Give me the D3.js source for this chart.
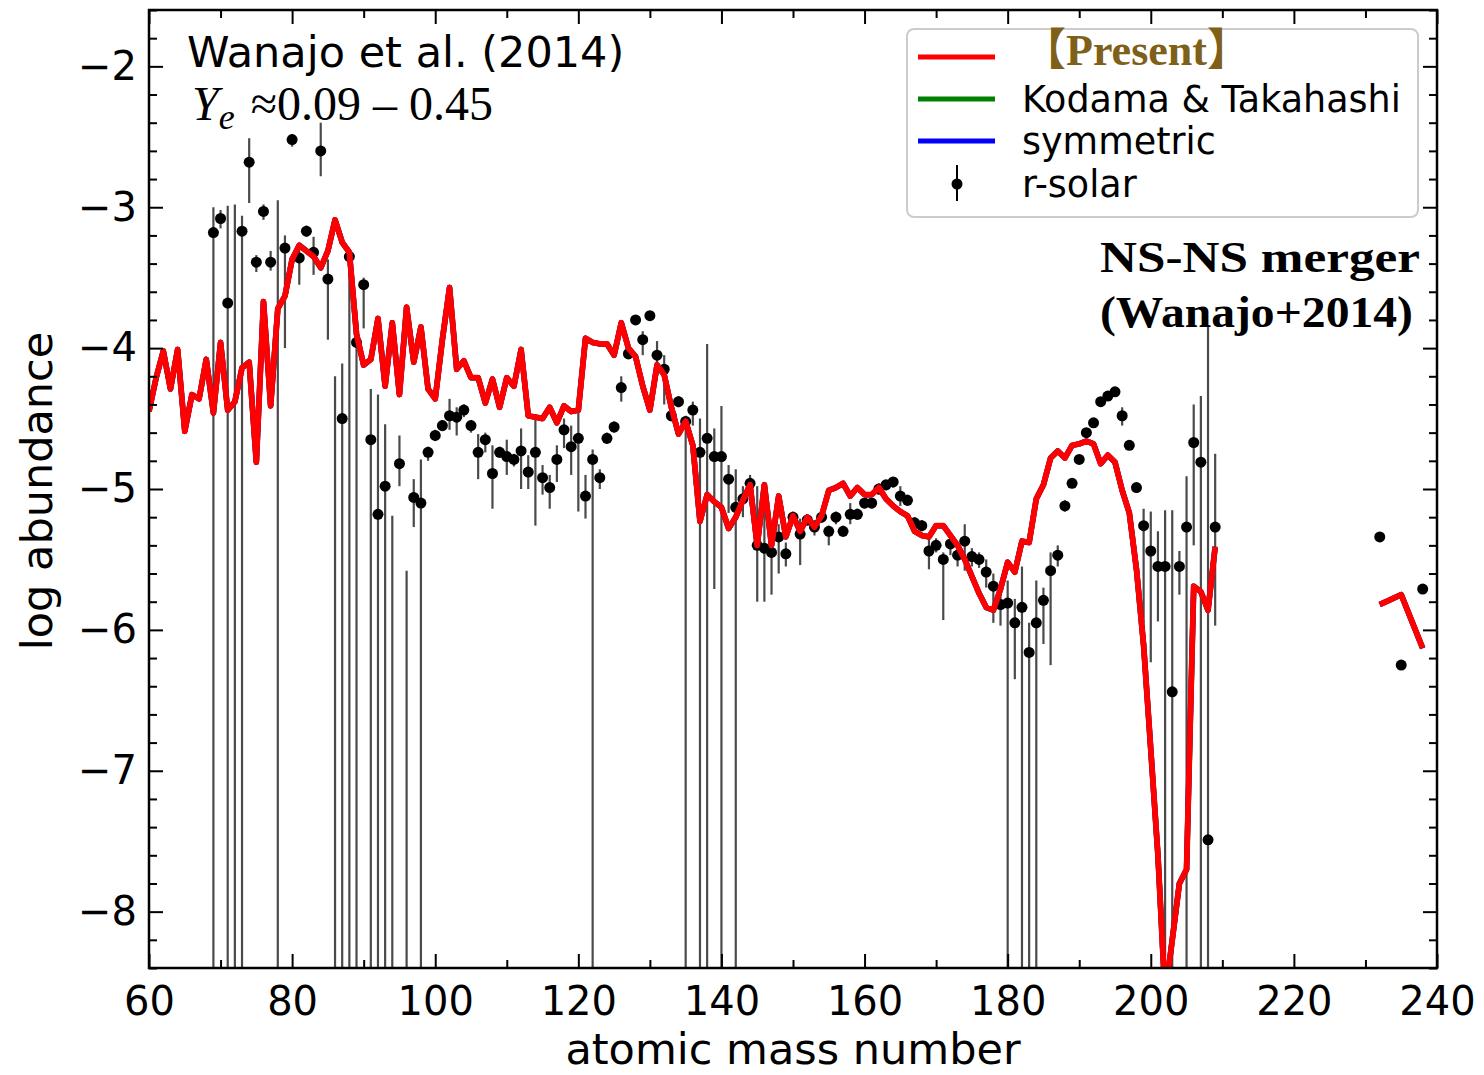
<!DOCTYPE html>
<html>
<head>
<meta charset="utf-8">
<script src="https://cdn.jsdelivr.net/npm/d3@7"></script>
<style>
body { margin: 0; background: #fff; }
</style>
</head>
<body>
<div id="chart"></div>
<script>
// model abundances (log), one value per mass number from 60 to 209
var presentStart = 60;
var presentY = [
  -4.45, -4.21, -4.02, -4.29, -4.01, -4.59, -4.33, -4.36, -4.08, -4.46,
  -3.96, -4.44, -4.38, -4.14, -4.10, -4.81, -3.67, -4.41, -3.72, -3.63,
  -3.37, -3.27, -3.31, -3.35, -3.43, -3.31, -3.09, -3.25, -3.32, -3.90,
  -4.12, -4.08, -3.79, -4.27, -3.82, -4.33, -3.71, -4.10, -3.85, -4.29,
  -4.36, -3.94, -3.57, -4.15, -4.09, -4.21, -4.21, -4.39, -4.22, -4.42,
  -4.21, -4.27, -4.01, -4.48, -4.49, -4.50, -4.42, -4.53, -4.41, -4.45,
  -4.44, -3.93, -3.96, -3.97, -3.97, -4.05, -3.82, -4.00, -4.06, -4.27,
  -4.44, -4.12, -4.19, -4.42, -4.61, -4.52, -4.69, -5.23, -5.04, -5.09,
  -5.13, -5.28, -5.20, -5.08, -4.97, -5.40, -4.97, -5.40, -5.05, -5.34,
  -5.19, -5.30, -5.20, -5.27, -5.19, -5.01, -4.99, -4.96, -5.05, -4.99,
  -5.04, -5.04, -4.99, -5.07, -5.12, -5.16, -5.19, -5.30, -5.33, -5.34,
  -5.26, -5.26, -5.33, -5.40, -5.50, -5.62, -5.74, -5.84, -5.86, -5.71,
  -5.52, -5.59, -5.37, -5.38, -5.07, -4.97, -4.78, -4.73, -4.78, -4.69,
  -4.68, -4.66, -4.68, -4.82, -4.76, -4.81, -5.01, -5.17, -5.57, -6.11,
  -6.85, -7.60, -8.60, -8.20, -7.80, -7.70, -5.69, -5.73, -5.86, -5.41
];
var actinideA = [232, 235, 238];
var actinideY = [-5.82, -5.75, -6.13];

// r-process solar residuals: mass number, value, upper and lower end of the error bar
var solarA = [
  69, 70, 71, 72, 73, 74, 75, 76, 77, 78, 79, 80, 81, 82, 83, 84, 85, 86, 87, 88,
  89, 90, 91, 92, 93, 94, 95, 96, 97, 98, 99, 100, 101, 102, 103, 104, 105, 106, 107, 108,
  109, 110, 111, 112, 113, 114, 115, 116, 117, 118, 119, 120, 121, 122, 123, 124, 125, 126, 127, 128,
  129, 130, 131, 132, 133, 134, 135, 136, 137, 138, 139, 140, 141, 142, 143, 144, 145, 146, 147, 148,
  149, 150, 151, 152, 153, 154, 155, 156, 157, 158, 159, 160, 161, 162, 163, 164, 165, 166, 167, 168,
  169, 170, 171, 172, 173, 174, 175, 176, 177, 178, 179, 180, 181, 182, 183, 184, 185, 186, 187, 188,
  189, 190, 191, 192, 193, 194, 195, 196, 197, 198, 199, 200, 201, 202, 203, 204, 205, 206, 207, 208,
  209, 232, 235, 238
];
var solarY = [
  -3.18, -3.08, -3.68, -9.00, -3.17, -2.68, -3.39, -3.03, -3.39, -9.00, -3.29, -2.52, -3.36, -3.17, -3.32, -2.60, -3.51, -9.00, -4.50, -3.35,
  -3.96, -3.55, -4.65, -5.18, -4.98, -9.00, -4.82, -9.00, -5.06, -5.10, -4.74, -4.62, -4.55, -4.48, -4.49, -4.44, -4.55, -4.74, -4.65, -4.89,
  -4.74, -4.77, -4.79, -4.73, -4.88, -4.74, -4.92, -4.99, -4.79, -4.58, -4.70, -4.64, -5.05, -4.79, -4.92, -4.64, -4.56, -4.28, -4.04, -3.80,
  -3.94, -3.77, -4.05, -4.15, -4.48, -4.38, -4.52, -4.44, -4.74, -4.64, -4.77, -4.77, -4.93, -5.13, -5.07, -4.96, -5.40, -5.42, -5.45, -5.34,
  -5.46, -5.20, -5.32, -5.22, -5.27, -5.20, -5.30, -5.20, -5.30, -5.18, -5.18, -5.10, -5.10, -5.00, -4.97, -4.95, -5.05, -5.08, -5.24, -5.26,
  -5.44, -5.40, -5.50, -5.39, -5.47, -5.37, -5.48, -5.50, -5.59, -5.69, -5.82, -5.81, -5.95, -5.84, -6.16, -5.95, -5.79, -5.58, -5.47, -5.12,
  -4.96, -4.79, -4.60, -4.53, -4.38, -4.34, -4.31, -4.48, -4.69, -4.99, -5.26, -5.44, -5.55, -5.55, -6.44, -5.55, -5.27, -4.67, -4.81, -7.49,
  -5.27, -5.34, -6.25, -5.71
];
var solarHi = [
  -3.00, -3.02, -2.99, -2.98, -3.06, -2.51, -3.34, -2.98, -3.31, -2.95, -3.20, -2.48, -3.30, -3.13, -3.21, -2.40, -3.37, -4.20, -4.11, -3.30,
  -3.90, -3.50, -4.29, -4.33, -4.54, -5.19, -4.62, -5.58, -4.93, -4.79, -4.70, -4.58, -4.51, -4.36, -4.42, -4.40, -4.51, -4.61, -4.60, -4.69,
  -4.70, -4.65, -4.75, -4.57, -4.76, -4.50, -4.83, -4.90, -4.69, -4.50, -4.55, -4.45, -4.90, -4.72, -4.86, -4.60, -4.52, -4.20, -4.00, -3.77,
  -3.88, -3.74, -3.95, -4.05, -4.44, -4.34, -4.48, -4.38, -4.50, -3.97, -4.57, -4.41, -4.83, -4.86, -4.98, -4.90, -4.98, -5.00, -5.28, -5.25,
  -5.38, -5.16, -5.21, -5.18, -5.22, -5.16, -5.26, -5.16, -5.26, -5.10, -5.14, -5.07, -5.07, -4.96, -4.94, -4.92, -4.98, -5.04, -5.20, -5.22,
  -5.35, -5.35, -5.45, -5.32, -5.40, -5.25, -5.42, -5.45, -5.50, -5.60, -5.72, -5.65, -5.78, -5.55, -5.95, -5.65, -5.70, -5.45, -5.40, -5.08,
  -4.93, -4.76, -4.57, -4.50, -4.35, -4.31, -4.28, -4.42, -4.66, -4.96, -5.14, -5.16, -5.30, -5.15, -5.15, -5.44, -4.91, -4.40, -4.34, -3.84,
  -4.75, -5.31, -6.22, -5.68
];
var solarLo = [
  -9.00, -3.15, -9.00, -9.00, -9.00, -2.97, -3.46, -3.09, -3.45, -9.00, -4.00, -2.57, -3.55, -3.21, -3.48, -2.78, -3.94, -9.00, -9.00, -9.00,
  -9.00, -3.86, -9.00, -9.00, -9.00, -9.00, -4.98, -9.00, -5.27, -9.00, -4.80, -4.66, -4.59, -4.58, -4.62, -4.49, -4.60, -4.93, -4.74, -5.14,
  -4.78, -4.90, -4.84, -5.00, -5.00, -5.26, -5.04, -5.14, -4.95, -4.71, -4.90, -5.16, -5.21, -9.00, -5.00, -4.68, -4.60, -4.38, -4.08, -3.83,
  -4.05, -3.80, -4.20, -4.40, -4.52, -4.42, -9.00, -4.55, -9.00, -9.00, -5.71, -9.00, -5.17, -9.00, -5.20, -5.03, -5.80, -5.80, -5.75, -5.60,
  -5.55, -5.24, -5.54, -5.26, -5.33, -5.24, -5.40, -5.25, -5.34, -5.25, -5.22, -5.14, -5.14, -5.04, -5.01, -4.99, -5.12, -5.12, -5.28, -5.30,
  -5.57, -5.45, -5.93, -5.47, -5.55, -5.58, -5.55, -5.56, -5.70, -5.95, -5.97, -9.00, -6.35, -9.00, -9.00, -9.00, -6.10, -6.25, -5.55, -5.16,
  -4.99, -4.82, -4.63, -4.56, -4.41, -4.37, -4.34, -4.55, -4.72, -5.02, -5.95, -6.23, -5.94, -9.00, -9.00, -5.75, -9.00, -5.40, -9.00, -9.00,
  -5.97, -5.37, -6.28, -5.74
];

var xTicks = [60, 80, 100, 120, 140, 160, 180, 200, 220, 240];
var xMinor = [70, 90, 110, 130, 150, 170, 190, 210, 230];
var yTicks = [-8, -7, -6, -5, -4, -3, -2];
var legendLabels = ["【Present】", "Kodama & Takahashi", "symmetric", "r-solar"];
var legendColors = ["#ff0000", "#008000", "#0000ff", "#000000"];

var W = 1484, H = 1075;
var pL = 149, pR = 1437, pT = 10, pB = 968;

var svg = d3.select("#chart").append("svg")
  .attr("width", W)
  .attr("height", H)
  .style("font-family", "'DejaVu Sans', sans-serif");

svg.append("rect").attr("width", W).attr("height", H).attr("fill", "#fff");

var x = d3.scaleLinear().domain([60, 240]).range([pL, pR]);
var y = d3.scaleLinear().domain([-8.4, -1.6]).range([pB, pT]);

svg.append("clipPath").attr("id", "plotclip")
  .append("rect")
  .attr("x", pL).attr("y", pT)
  .attr("width", pR - pL).attr("height", pB - pT);

var plot = svg.append("g").attr("clip-path", "url(#plotclip)");

// r-solar points with error bars
var solar = solarA.map(function(a, i) {
  return { a: a, v: solarY[i], hi: solarHi[i], lo: solarLo[i] };
});

plot.selectAll("line.err")
  .data(solar)
  .enter()
  .append("line")
  .attr("class", "err")
  .attr("x1", function(d) { return x(d.a); })
  .attr("x2", function(d) { return x(d.a); })
  .attr("y1", function(d) { return y(d.hi); })
  .attr("y2", function(d) { return y(d.lo); })
  .attr("stroke", "#4a4a4a")
  .attr("stroke-width", 2.2);

plot.selectAll("circle.pt")
  .data(solar)
  .enter()
  .append("circle")
  .attr("class", "pt")
  .attr("cx", function(d) { return x(d.a); })
  .attr("cy", function(d) { return y(d.v); })
  .attr("r", 5.5)
  .attr("fill", "#000");

// model lines (the other two sit under the red one)
var presentA = d3.range(presentStart, presentStart + presentY.length);
var mainPts = presentA.map(function(a, i) { return [a, presentY[i]]; });
var actPts = actinideA.map(function(a, i) { return [a, actinideY[i]]; });

var line = d3.line()
  .x(function(d) { return x(d[0]); })
  .y(function(d) { return y(d[1]); });

[["#008000", 5.5], ["#0000ff", 5.5], ["#ff0000", 5.8]].forEach(function(s) {
  [mainPts, actPts].forEach(function(pts) {
    plot.append("path")
      .datum(pts)
      .attr("d", line)
      .attr("fill", "none")
      .attr("stroke", s[0])
      .attr("stroke-width", s[1])
      .attr("stroke-linejoin", "round");
  });
});

// axes, ticks inside on all four sides
var fmt = d3.format("d");

function styleAxis(g) {
  g.select(".domain").remove();
  g.selectAll(".tick line").attr("stroke", "#000").attr("stroke-width", 2);
  g.selectAll(".tick text").attr("font-size", 40).attr("fill", "#000")
    .attr("font-family", "'DejaVu Sans', sans-serif");
}

svg.append("g").attr("transform", "translate(0," + pB + ")")
  .call(d3.axisBottom(x).tickValues(xTicks).tickSizeInner(-14).tickSizeOuter(0).tickPadding(19).tickFormat(fmt))
  .call(styleAxis);
svg.append("g").attr("transform", "translate(0," + pB + ")")
  .call(d3.axisBottom(x).tickValues(xMinor).tickSizeInner(-8).tickSizeOuter(0).tickFormat(""))
  .call(styleAxis);
svg.append("g").attr("transform", "translate(0," + pT + ")")
  .call(d3.axisTop(x).tickValues(xTicks).tickSizeInner(-14).tickSizeOuter(0).tickFormat(""))
  .call(styleAxis);
svg.append("g").attr("transform", "translate(0," + pT + ")")
  .call(d3.axisTop(x).tickValues(xMinor).tickSizeInner(-8).tickSizeOuter(0).tickFormat(""))
  .call(styleAxis);

var yMinor = y.ticks(34).filter(function(d) { return Math.abs(d - Math.round(d)) > 1e-6; });

svg.append("g").attr("transform", "translate(" + pL + ",0)")
  .call(d3.axisLeft(y).tickValues(yTicks).tickSizeInner(-14).tickSizeOuter(0).tickPadding(12).tickFormat(fmt))
  .call(styleAxis);
svg.append("g").attr("transform", "translate(" + pL + ",0)")
  .call(d3.axisLeft(y).tickValues(yMinor).tickSizeInner(-8).tickSizeOuter(0).tickFormat(""))
  .call(styleAxis);
svg.append("g").attr("transform", "translate(" + pR + ",0)")
  .call(d3.axisRight(y).tickValues(yTicks).tickSizeInner(-14).tickSizeOuter(0).tickFormat(""))
  .call(styleAxis);
svg.append("g").attr("transform", "translate(" + pR + ",0)")
  .call(d3.axisRight(y).tickValues(yMinor).tickSizeInner(-8).tickSizeOuter(0).tickFormat(""))
  .call(styleAxis);

svg.append("rect")
  .attr("x", pL).attr("y", pT)
  .attr("width", pR - pL).attr("height", pB - pT)
  .attr("fill", "none").attr("stroke", "#000").attr("stroke-width", 2.5);

// axis titles
svg.append("text")
  .attr("x", 793).attr("y", 1064)
  .attr("text-anchor", "middle")
  .attr("font-size", 43)
  .text("atomic mass number");

svg.append("text")
  .attr("transform", "translate(52," + 491 + ") rotate(-90)")
  .attr("text-anchor", "middle")
  .attr("font-size", 43)
  .text("log abundance");

// annotations
svg.append("text")
  .attr("x", 187).attr("y", 67)
  .attr("font-size", 43)
  .text("Wanajo et al. (2014)");

var ye = svg.append("text")
  .attr("x", 192).attr("y", 120)
  .attr("font-family", "'Liberation Serif', serif")
  .attr("font-size", 48);
ye.append("tspan").attr("font-style", "italic").text("Y");
ye.append("tspan").attr("font-style", "italic").attr("font-size", 36).attr("dy", 9).text("e");
ye.append("tspan").attr("dy", -9).attr("dx", 16).text("\u22480.09 \u2013 0.45");

svg.append("text")
  .attr("x", 1420).attr("y", 272)
  .attr("text-anchor", "end")
  .attr("font-family", "'Liberation Serif', serif")
  .attr("font-weight", "bold")
  .attr("font-size", 45)
  .attr("textLength", 320)
  .attr("lengthAdjust", "spacingAndGlyphs")
  .text("NS-NS merger");

svg.append("text")
  .attr("x", 1413).attr("y", 327)
  .attr("text-anchor", "end")
  .attr("font-family", "'Liberation Serif', serif")
  .attr("font-weight", "bold")
  .attr("font-size", 45)
  .attr("textLength", 313)
  .attr("lengthAdjust", "spacingAndGlyphs")
  .text("(Wanajo+2014)");

// legend
var lg = svg.append("g");
lg.append("rect")
  .attr("x", 907).attr("y", 29)
  .attr("width", 511).attr("height", 188)
  .attr("rx", 7)
  .attr("fill", "#fff").attr("fill-opacity", 0.85)
  .attr("stroke", "#cccccc").attr("stroke-width", 2);

var rowY = [57, 99, 141, 184];
legendLabels.forEach(function(lab, i) {
  if (i < 3) {
    lg.append("line")
      .attr("x1", 918).attr("x2", 995)
      .attr("y1", rowY[i]).attr("y2", rowY[i])
      .attr("stroke", legendColors[i]).attr("stroke-width", 5);
  } else {
    lg.append("line")
      .attr("x1", 957).attr("x2", 957)
      .attr("y1", rowY[i] - 19).attr("y2", rowY[i] + 17)
      .attr("stroke", "#000").attr("stroke-width", 2);
    lg.append("circle")
      .attr("cx", 957).attr("cy", rowY[i]).attr("r", 5.5).attr("fill", "#000");
  }
  var t = lg.append("text")
    .attr("x", 1022).attr("y", rowY[i] + 13)
    .attr("font-size", 36.5)
    .text(lab);
  if (i === 0) {
    t.attr("font-family", "'Liberation Serif', 'Noto Sans CJK JP', serif")
      .attr("font-weight", "bold")
      .attr("font-size", 44)
      .attr("y", rowY[i] + 8)
      .attr("fill", "#7f6019");
  }
});
</script>
</body>
</html>
